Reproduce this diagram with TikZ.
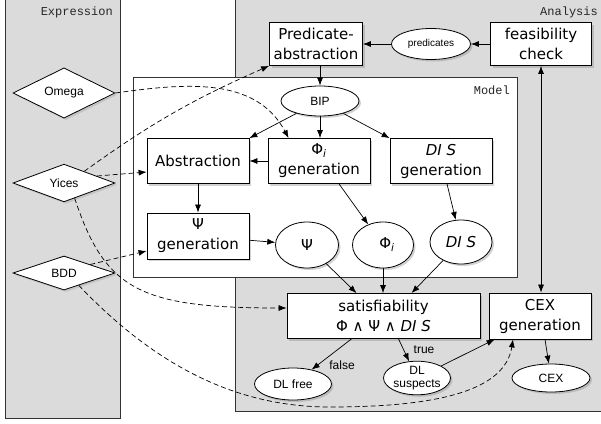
\documentclass[tikz,border=0pt]{standalone}
\usepackage{fontspec}
\setmainfont{DejaVu Sans}
\newfontfamily\helv{Liberation Sans}
\newfontfamily\cour{Liberation Mono}
\usetikzlibrary{shapes.geometric,shadows,arrows.meta}

\newcommand\boxfont{\fontsize{15}{20}\selectfont}
\newcommand\ovalfont{\helv\fontsize{12}{13}\selectfont}

\tikzset{
  panel/.style={draw=black!80, line width=0.7pt, fill=black!14},
  modelpanel/.style={draw=black!80, line width=0.7pt, fill=white},
  tag/.style={font=\cour\fontsize{12}{12}\selectfont, text=black!85, inner sep=1pt},
  box/.style={draw, line width=0.8pt, fill=white, align=center, inner sep=2pt,
    minimum width=102pt, minimum height=45pt, font=\boxfont,
    drop shadow={opacity=0.35, shadow xshift=2pt, shadow yshift=-2pt}},
  oval/.style={ellipse, draw, line width=0.8pt, fill=white, align=center, inner sep=1pt,
    font=\ovalfont,
    drop shadow={opacity=0.35, shadow xshift=2pt, shadow yshift=-2pt}},
  tool/.style={diamond, draw, line width=0.8pt, fill=white, inner sep=0pt,
    minimum width=102pt, minimum height=34pt, font=\ovalfont,
    drop shadow={opacity=0.25, shadow xshift=2pt, shadow yshift=-2pt}},
  flow/.style={->, line width=0.7pt},
  dep/.style={->, line width=0.7pt, dash pattern=on 5pt off 3pt},
  lbl/.style={font=\ovalfont, inner sep=1pt}
}

\begin{document}
\begin{tikzpicture}[x=1pt,y=-1pt,>={Latex[length=8pt,width=6pt]}]
\clip (0,0) rectangle (601,423);
% panels
\draw[panel] (5,-5) rectangle (120,418);
\draw[panel] (235,-5) rectangle (610,411);
\draw[modelpanel] (133,77) rectangle (517,277);
\node[tag, anchor=east] (exprtag) at (114,12) {Expression};
\node[tag, anchor=east] (anatag) at (599,12) {Analysis};
\node[tag, anchor=east] (modeltag) at (511,90) {Model};

% analysis loop
\node[box, minimum width=93pt, minimum height=43pt] (predabs) at (316,44) {Predicate-\\abstraction};
\node[oval, font=\helv\fontsize{10}{11}\selectfont, minimum width=79pt, minimum height=31pt] (preds) at (431,44) {predicates};
\node[box, minimum width=101pt, minimum height=43pt] (feas) at (541,44) {feasibility\\check};

% model
\node[oval, minimum width=78pt, minimum height=30pt] (bip) at (320,101) {BIP};
\node[box] (abs) at (198,161) {Abstraction};
\node[box] (phigen) at (319,161) {Φ\textsubscript{\itshape i}\\generation};
\node[box] (disgen) at (441,161) {{\itshape DI S}\\generation};
\node[box, minimum height=46pt] (psigen) at (198,236) {Ψ\\generation};
\node[oval, font=\boxfont, minimum width=63pt, minimum height=46pt] (psi) at (307,245) {Ψ};
\node[oval, font=\boxfont, minimum width=61pt, minimum height=46pt] (phi) at (383,245) {\hspace{8pt}Φ\textsubscript{\itshape i}};
\node[oval, font=\boxfont, minimum width=62pt, minimum height=44pt] (dis) at (461,242) {\itshape DI S};

% results
\node[box, minimum width=193pt, minimum height=45pt] (sat) at (383.5,316) {satisfiability\\Φ ∧ Ψ ∧ {\itshape DI S}};
\node[box, minimum width=102pt, minimum height=46pt] (cexgen) at (540,316) {CEX\\generation};
\node[oval, minimum width=77pt, minimum height=32pt] (dlfree) at (293,384) {DL free};
\node[oval, minimum width=66pt, minimum height=30pt, inner sep=0pt] (dlsusp) at (417,378) {DL\\suspects};
\node[oval, minimum width=78pt, minimum height=28pt] (cex) at (551,378) {CEX};
\node[lbl] (falselbl) at (342,365) {false};
\node[lbl] (truelbl) at (424,350) {true};

% tools
\node[tool] (omega) at (64,93) {Omega};
\node[tool] (yices) at (64,183) {Yices};
\node[tool] (bdd) at (64,273) {BDD};

% solid flow
\draw[flow] (feas) -- (preds);
\draw[flow] (preds) -- (predabs);
\draw[flow] (bip |- predabs.south) -- (bip);
\draw[flow] (bip) -- (abs.north east);
\draw[flow] (bip) -- (bip |- phigen.north);
\draw[flow] (bip) -- (disgen.north west);
\draw[flow] (phigen) -- (abs);
\draw[flow] (abs) -- (psigen);
\draw[flow] (psigen) -- (psi);
\draw[flow] ([xshift=20pt]phigen.south) -- (phi);
\draw[flow] ([xshift=6pt]disgen.south) -- (dis);
\draw[flow] (psi) -- ([xshift=-27pt]sat.north);
\draw[flow] (phi) -- (phi |- sat.north);
\draw[flow] (dis) -- ([xshift=28pt]sat.north);
\draw[flow] ([xshift=-32pt]sat.south) -- (dlfree);
\draw[flow] ([xshift=15pt]sat.south) -- (dlsusp);
\draw[flow] (dlsusp) -- ([xshift=6pt]cexgen.south west);
\draw[flow] ([xshift=5pt]cexgen.south) -- (cex);
\draw[<->, line width=0.7pt] (feas) -- (feas |- cexgen.north);

% tool usage
\coordinate (bddlow) at (330,407);
\draw[dep] (omega.east) to[out=8, in=118] ([xshift=21pt]phigen.north west);
\draw[dep] (yices.30) to[bend left=6] (predabs.south west);
\draw[dep] (yices.12) -- ([yshift=-11pt]abs.west);
\draw[dep] (yices.-55) .. controls (105,290) and (140,308) .. ([yshift=8pt]sat.west);
\draw[dep] (bdd.18) -- ([yshift=-15pt]psigen.west);
\draw[dep] (bdd.-40) .. controls (150,360) and (230,407) .. (bddlow)
  .. controls (440,407) and (505,390) .. ([xshift=-27pt]cexgen.south);
\end{tikzpicture}
\end{document}
